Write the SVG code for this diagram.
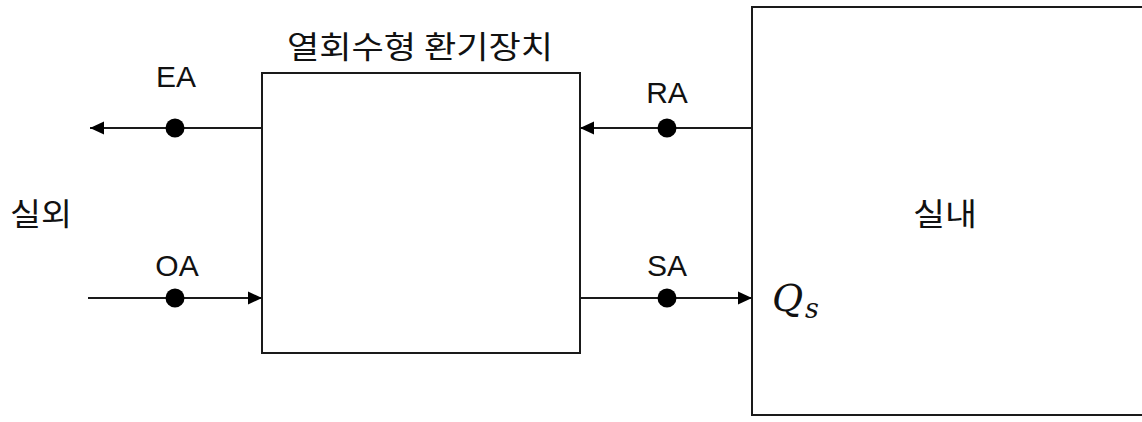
<svg xmlns="http://www.w3.org/2000/svg" width="1142" height="422" viewBox="0 0 1142 422">
  <style>
    .box { fill: #ffffff; stroke: #1a1a1a; stroke-width: 2; }
    .flow { fill: none; stroke: #1a1a1a; stroke-width: 1.8; }
    .dot { fill: #000000; }
    .lbl { font-family: "Liberation Sans", "Noto Sans CJK KR", sans-serif; font-size: 30px; fill: #111111; text-anchor: middle; }
    .kr { font-family: "Noto Sans CJK KR", "Liberation Sans", sans-serif; font-size: 31px; fill: #111111; }
    .math { font-family: "DejaVu Serif", "Liberation Serif", serif; font-style: italic; fill: #111111; }
  </style>
  <defs>
    <marker id="arrow" markerUnits="userSpaceOnUse" markerWidth="14" markerHeight="14" refX="14" refY="7" orient="auto">
      <path d="M0,0.5 L14,7 L0,13.5 Z" fill="#000000"/>
    </marker>
  </defs>
  <rect width="1142" height="422" fill="#ffffff"/>

  <g id="hrv-unit">
    <rect class="box" x="262" y="73" width="318" height="280"/>
    <text class="kr" x="420" y="58" text-anchor="middle" textLength="266" lengthAdjust="spacingAndGlyphs">열회수형 환기장치</text>
  </g>

  <g id="indoor">
    <path class="box" d="M1400,7 L752,7 L752,415 L1400,415"/>
    <text class="kr" x="945" y="225" text-anchor="middle" textLength="64" lengthAdjust="spacingAndGlyphs">실내</text>
    <text class="math" x="772" y="311" font-size="38">Q</text>
    <text class="math" x="805" y="318" font-size="27">s</text>
  </g>

  <g id="outdoor">
    <text class="kr" x="10" y="225" textLength="62" lengthAdjust="spacingAndGlyphs">실외</text>
  </g>

  <g id="connectors">
    <line class="flow" x1="262" y1="128" x2="90" y2="128" marker-end="url(#arrow)"/>
    <line class="flow" x1="752" y1="128" x2="580" y2="128" marker-end="url(#arrow)"/>
    <line class="flow" x1="88" y1="298" x2="262" y2="298" marker-end="url(#arrow)"/>
    <line class="flow" x1="580" y1="298" x2="752" y2="298" marker-end="url(#arrow)"/>
    <circle class="dot" cx="175" cy="128" r="9.5"/>
    <circle class="dot" cx="667" cy="128" r="9.5"/>
    <circle class="dot" cx="175" cy="298" r="9.5"/>
    <circle class="dot" cx="667" cy="298" r="9.5"/>
    <text class="lbl" x="176" y="87">EA</text>
    <text class="lbl" x="667" y="103">RA</text>
    <text class="lbl" x="177" y="276">OA</text>
    <text class="lbl" x="667" y="276">SA</text>
  </g>
</svg>
